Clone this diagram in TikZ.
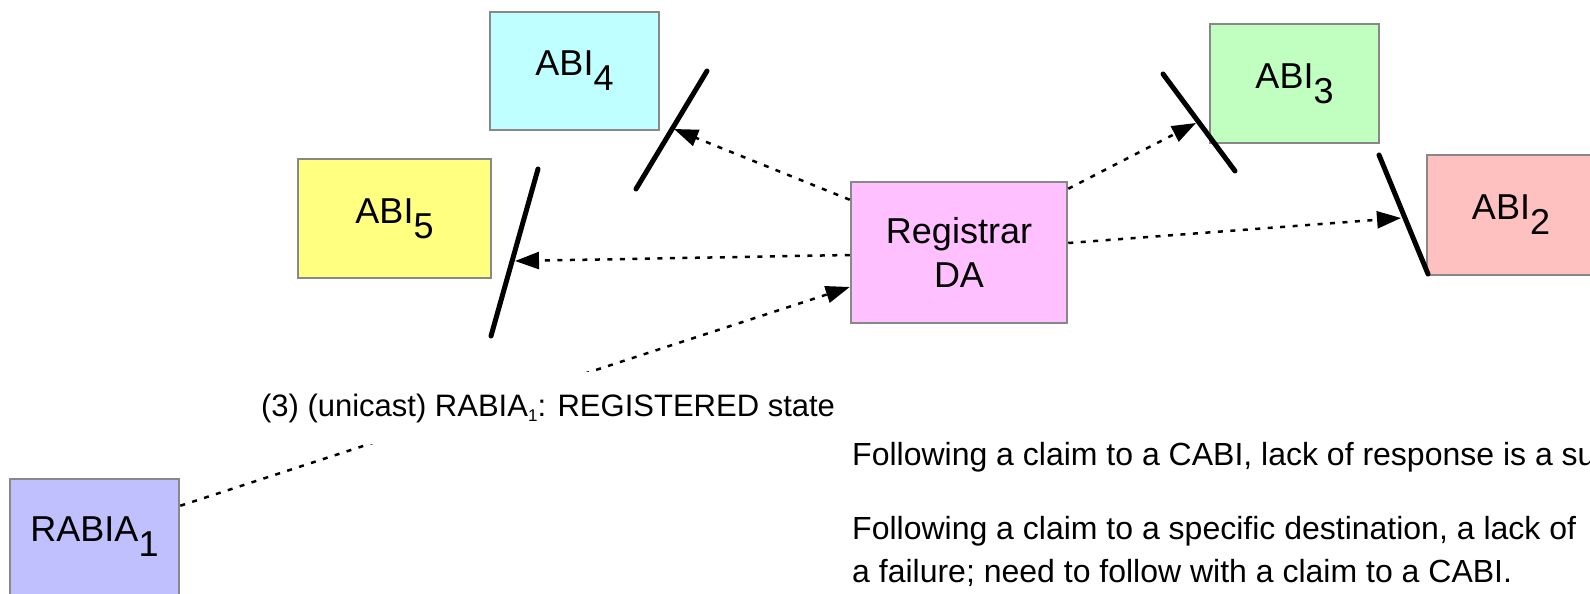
\documentclass[tikz,border=0pt]{standalone}
\usepackage{fontspec}
\setmainfont{Liberation Sans}
\usetikzlibrary{arrows.meta}

\definecolor{boxgray}{RGB}{136,136,136}
\definecolor{abicyan}{RGB}{192,255,255}
\definecolor{abiyellow}{RGB}{255,255,128}
\definecolor{abigreen}{RGB}{192,255,192}
\definecolor{abipink}{RGB}{255,192,192}
\definecolor{regpink}{RGB}{255,192,255}
\definecolor{rabiablue}{RGB}{192,192,255}

% full-size digit set below the baseline, as in the box labels
\newcommand\lowdigit[1]{\raisebox{-15pt}{#1}}

\begin{document}
\begin{tikzpicture}[x=1pt,y=-1pt,
  box/.style={draw=boxgray, line width=2.5pt, inner sep=0pt, align=center,
              font=\fontsize{36}{44}\selectfont},
  msg/.style={line width=2.5pt, dash pattern=on 5pt off 7.5pt,
              -{Triangle[length=24pt,width=17pt]}},
  bar/.style={line width=5pt, line cap=round},
  note/.style={anchor=base west, inner sep=0pt, font=\fontsize{32}{43}\selectfont}]

\useasboundingbox (0,0) rectangle (1590,594);
\clip (0,0) rectangle (1590,594);

% boxes
\node[box, fill=abicyan,   minimum width=169pt, minimum height=118pt] (abi4) at (574.5,71)   {ABI\lowdigit{4}};
\node[box, fill=abiyellow, minimum width=193pt, minimum height=119pt] (abi5) at (394.5,218.5) {ABI\lowdigit{5}};
\node[box, fill=abigreen,  minimum width=169pt, minimum height=119pt] (abi3) at (1294.5,83.5) {ABI\lowdigit{3}};
\node[box, fill=abipink,   minimum width=168pt, minimum height=120pt] (abi2) at (1511,215)    {ABI\lowdigit{2}};
\node[box, fill=regpink,   minimum width=216pt, minimum height=141pt] (reg)  at (959,252.5)   {Registrar\\DA};
\node[box, fill=rabiablue, minimum width=169pt, minimum height=116pt] (rabia) at (94.5,537)   {RABIA\lowdigit{1}};

% barriers in front of the ABIs
\coordinate (b4a) at (707,71);   \coordinate (b4b) at (636,189);
\coordinate (b5a) at (538,169);  \coordinate (b5b) at (491,336);
\coordinate (b3a) at (1163,74);  \coordinate (b3b) at (1235,171);
\coordinate (b2a) at (1379,155); \coordinate (b2b) at (1428,274);
\draw[bar] (b4a) -- (b4b);
\draw[bar] (b5a) -- (b5b);
\draw[bar] (b3a) -- (b3b);
\draw[bar] (b2a) -- (b2b);

% arrow ends on the barriers
\coordinate (t4) at (674,129);
\coordinate (t5) at (515,261);
\coordinate (t3) at (1196,123);
\coordinate (t2) at (1401,218);

% messages from the registrar
\draw[msg] ([yshift=-19pt]reg.north west) -- (t4);
\draw[msg] ([yshift=-2.5pt]reg.west) -- (t5);
\draw[msg] ([yshift=-8pt]reg.north east) -- (t3);
\draw[msg] ([yshift=9.5pt]reg.east) -- (t2);

% unicast from RABIA to the registrar
\draw[msg] ([yshift=-28pt]rabia.north east) -- ([yshift=-34.5pt]reg.west);
\node[fill=white, inner xsep=2pt, inner ysep=0pt, minimum height=72pt, anchor=base,
      font=\fontsize{31}{36}\selectfont] (lbl) at (548,416)
  {(3) (unicast) RABIA\raisebox{-5pt}{\fontsize{17}{17}\selectfont 1}: REGISTERED state};

% notes
\node[note] (n1) at (852,465) {Following a claim to a CABI, lack of response is a su};
\node[note] (n2) at (852,539) {Following a claim to a specific destination, a lack of};
\node[note] (n3) at (852,582) {a failure; need to follow with a claim to a CABI.};

\end{tikzpicture}
\end{document}
